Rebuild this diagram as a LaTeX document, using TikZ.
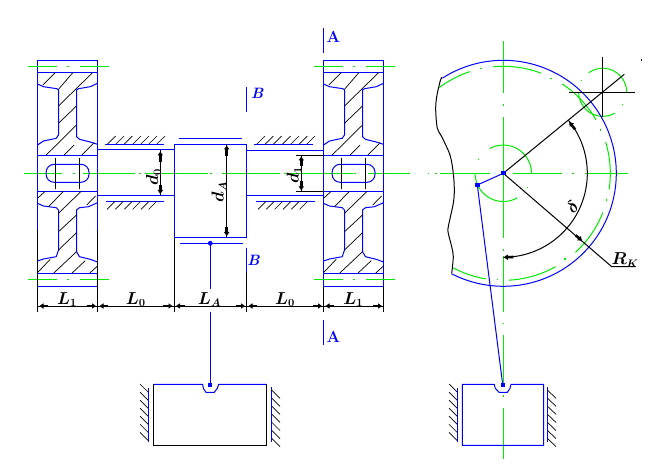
\documentclass[tikz,border=0pt]{standalone}
\usepackage{amsmath}
\usetikzlibrary{arrows.meta}
\definecolor{cadblue}{RGB}{0,0,255}
\definecolor{cadgreen}{RGB}{0,235,0}
\tikzset{
  bl/.style={draw=cadblue,line width=1pt},
  gr/.style={draw=cadgreen,line width=1pt},
  bk/.style={draw=black,line width=1pt},
  hatchline/.style={draw=black,line width=0.7pt},
  tipped/.style={draw=black,line width=2.6pt,-{Triangle[length=4pt,width=5.2pt]}},
  dimtext/.style={font=\fontsize{16}{16}\selectfont\bfseries\itshape,inner sep=0pt},
  seclabel/.style={font=\fontsize{16}{16}\selectfont\bfseries,text=cadblue,inner sep=0pt},
  seclabelit/.style={font=\fontsize{15}{15}\selectfont\bfseries\itshape,text=cadblue,inner sep=0pt},
}
\newcommand{\ArcP}[6]{\draw[#1] plot[domain=#5:#6,samples=70,smooth] ({#2+#4*cos(\x)},{#3-#4*sin(\x)});}
\newcommand{\GrDot}[2]{\fill[cadgreen] (#1-0.7,#2-0.7) rectangle (#1+0.7,#2+0.7);}
\newcommand{\Tip}[2]{\draw[tipped] (#1) -- (#2);}
\newcommand{\BlDot}[2]{\fill[cadblue] (#1-2.2,#2-2.2) rectangle (#1+2.2,#2+2.2);}
\newcommand{\WheelAt}[1]{%
\begin{scope}[shift={(#1,0)}]
  \draw[bl] (0,60.3) rectangle (60,286.3);
  \foreach \yy in {72.3,155.3,191.3,273.3} \draw[bl] (0,\yy) -- (60,\yy);
  \draw[bl] (0,84) -- (6,86.7) -- (19.3,88.7) -- (21,90) -- (21,135) -- (18.7,138.3) -- (6,141) -- (0,145);
  \draw[bl] (60,83.3) -- (52.7,86.7) -- (41,88.7) -- (39,90) -- (39,136.7) -- (42,139.3) -- (52.7,142) -- (60,144.3);
  \draw[bl] (0,203.3) -- (6,206) -- (18.7,207.7) -- (21,210) -- (21,250) -- (18.7,256.7) -- (6,259) -- (0,261);
  \draw[bl] (60,202.7) -- (51,206.7) -- (42,207.7) -- (39,210) -- (39,251.7) -- (42,256.7) -- (52.7,259.3) -- (60,262);
  \draw[bl,rounded corners=8pt] (8.6,164.3) rectangle (51.5,182.3);
  \draw[bk] (18,158) -- (18,189);
  \draw[bk] (42,158) -- (42,189);
  \foreach \a/\b/\c/\d in {5.3/85/17.7/72.7,21/89.3/35.3/72.7,21/106/55/72.7,21/123.3/39/106,8.7/155/39/125,26.7/155/36.7/145,44.3/155/56.7/142.7,
    0/198.3/7.7/191.3,11/206.7/26/191.3,21/213.3/43.7/191.3,49.3/205/58/196,21/231.7/39/215,21/250/39/232.7,0/272.7/12.7/259.3,16/273.3/39/251.7,34.3/273.3/47.7/260.7,52/273.3/60/266}
    \draw[hatchline] (\a,\b) -- (\c,\d);
  \foreach \yy in {66.3,279.3} {
    \draw[gr] (-9.5,\yy) -- (19.5,\yy);
    \GrDot{30.5}{\yy}
    \draw[gr] (42.5,\yy) -- (71.5,\yy);
  }
\end{scope}}
\newcommand{\GuideHatch}[3]{% x start, y start, x end
  \foreach \i in {0,...,6} \draw[hatchline] (#1,{#2+8.05*\i}) -- (#3,{#2+8.3+8.05*\i});}
\begin{document}
\begin{tikzpicture}[x=1pt,y=-1pt]
\useasboundingbox (0,0) rectangle (658,470);
\fill[white] (0,0) rectangle (658,470);

% centre line left view
\draw[gr] (24,173.3) -- (62,173.3);
\GrDot{74}{173.3}
\draw[gr] (83,173.3) -- (135,173.3);
\GrDot{140}{173.3}
\draw[gr] (145,173.3) -- (207.7,173.3);
\GrDot{211}{173.3}
\draw[gr] (222,173.3) -- (280,173.3);
\GrDot{285}{173.3}
\draw[gr] (290,173.3) -- (353,173.3);
\GrDot{355}{173.3}
\draw[gr] (368,173.3) -- (410,173.3);

\WheelAt{37.5}
\WheelAt{323.5}

% extension lines
\draw[bk] (37.5,230) -- (37.5,311.7);
\draw[bk] (97.5,230) -- (97.5,311.7);
\draw[bk] (323.5,286.3) -- (323.5,311.7);
\draw[bk] (383.5,286.3) -- (383.5,311.7);
\draw[bk] (174.3,237.3) -- (174.3,311.7);
\draw[bk] (246.3,272.3) -- (246.3,311.7);

% shaft
\draw[bl] (97.5,150) -- (174.3,150);
\draw[bl] (97.5,195.3) -- (174.3,195.3);
\draw[bl] (246.3,150.3) -- (323.5,150.3);
\draw[bl] (246.3,195.3) -- (323.5,195.3);

% big end
\draw[bl] (174.3,237.3) -- (174.3,144.3) -- (246.3,144.3) -- (246.3,237.3) -- cycle;
\draw[bl] (179,138.3) -- (241.7,138.3);
\draw[bl] (180,243.3) -- (243.3,243.3);
\draw[bl] (210.3,243.3) -- (210.3,288.7);
\draw[bl] (210.3,311.7) -- (210.3,384);
\fill[cadblue] (210.3,243.3) circle (2.4);

% bearing hatches
\draw[bl] (105,144.3) -- (164,144.3);
\foreach \a in {107.3,115.7,124,132.7,140.7,148.7,156.7} \draw[hatchline] (\a,144.3) -- (\a+8.3,136);
\draw[bl] (106,201.3) -- (163.7,201.3);
\foreach \a in {115,123.3,132.3,140.7,149,156.7} \draw[hatchline] (\a,201.3) -- (\a-8,209.3);
\draw[bl] (254,144.3) -- (312.7,144.3);
\foreach \a in {256.7,265,273.3,282.3,290.7,299,306.7} \draw[hatchline] (\a,144.3) -- (\a+8.3,136);
\draw[bl] (256,201.3) -- (315,201.3);
\foreach \a in {266,274.3,282.7,291,299.3,307.7} \draw[hatchline] (\a,201.3) -- (\a-8,209.3);

% horizontal dimension line
\draw[bk] (37.5,306) -- (383.5,306);
\Tip{48,306}{39.5,306}
\Tip{86.7,306}{96,306}
\Tip{108,306}{99.5,306}
\Tip{163,306}{172.5,306}
\Tip{185,306}{176,306}
\Tip{236,306}{245,306}
\Tip{257,306}{248.5,306}
\Tip{313,306}{322,306}
\Tip{334,306}{325.5,306}
\Tip{373,306}{382,306}
\node[dimtext] (l1a) at (67,299.5) {$\boldsymbol{L_{1}}$};
\node[dimtext] (l0a) at (135.7,299.5) {$\boldsymbol{L_{0}}$};
\node[dimtext] (lA) at (209.5,299.5) {$\boldsymbol{L_{A}}$};
\node[dimtext] (l0b) at (285,299.5) {$\boldsymbol{L_{0}}$};
\node[dimtext] (l1b) at (353.3,299.5) {$\boldsymbol{L_{1}}$};

% vertical dimensions
\draw[bk] (160.3,150) -- (160.3,195.3);
\Tip{160.3,161.7}{160.3,151.5}
\Tip{160.3,184.7}{160.3,194}
\node[dimtext,rotate=90] (d0) at (153.5,177) {$\boldsymbol{d_{0}}$};
\draw[bk] (226.7,144.3) -- (226.7,237.3);
\Tip{226.7,156}{226.7,145.5}
\Tip{226.7,227.3}{226.7,236}
\node[dimtext,rotate=90] (dA) at (219,192) {$\boldsymbol{d_{A}}$};
\draw[bk] (296,155.3) -- (323.5,155.3);
\draw[bk] (296,191.3) -- (323.5,191.3);
\draw[bk] (301.3,155.3) -- (301.3,191.3);
\Tip{301.3,166}{301.3,156.5}
\Tip{301.3,181.3}{301.3,190.3}
\node[dimtext,rotate=90] (d1) at (294,175) {$\boldsymbol{d_{1}}$};

% section marks
\draw[bl] (323.3,28.3) -- (323.3,52.7);
\node[seclabel] (a1) at (333.5,36.7) {A};
\draw[bl] (323.3,320) -- (323.3,344.7);
\node[seclabel] (a2) at (333.5,336.7) {A};
\draw[bl] (246.3,87.3) -- (246.3,111.7);
\node[seclabelit] (b1) at (257.3,93.3) {B};
\draw[bl] (246.3,247.7) -- (246.3,272.3);
\node[seclabelit] (b2) at (253.5,260.7) {B};

% left piston
\draw[bk] (153.3,384.3) -- (153.3,445.3) -- (266.7,445.3) -- (266.7,384.3);
\draw[bl] (153.3,384.3) -- (202.7,384.3) -- (203.3,388.3) -- (206,392.3) -- (214.3,392.3) -- (217.3,388.3) -- (218.7,384.3) -- (266.7,384.3);
\BlDot{210}{384.7}
\draw[bl] (148.3,388.3) -- (148.3,441.7);
\GuideHatch{140}{384}{148.3}
\draw[bl] (271.7,387.3) -- (271.7,441.7);
\GuideHatch{271.7}{390}{280}

% right view centre lines
\draw[gr] (503.3,41) -- (503.3,93.3);
\GrDot{503.3}{105}
\draw[gr] (503.3,117.3) -- (503.3,238.3);
\GrDot{503.3}{250}
\draw[gr] (503.3,255.7) -- (503.3,311.7);
\GrDot{503.3}{323.3}
\draw[gr] (503.3,335) -- (503.3,385);
\GrDot{503.3}{396}
\draw[gr] (503.3,408.3) -- (503.3,459.3);
\GrDot{428.3}{173.3}
\GrDot{436}{173.3}
\draw[gr] (440,173.3) -- (490,173.3);
\draw[gr] (513,173.3) -- (561.7,173.3);
\GrDot{573}{173.3}
\draw[gr] (585,173.3) -- (628,173.3);

% inner green arcs
\ArcP{gr}{503.3}{173.3}{107}{108.1}{126.9}
\ArcP{gr}{503.3}{173.3}{107}{69.3}{95.4}
\ArcP{gr}{503.3}{173.3}{107}{30}{56.5}
\ArcP{gr}{503.3}{173.3}{107}{-8.7}{17}
\ArcP{gr}{503.3}{173.3}{107}{-47.6}{-21.5}
\ArcP{gr}{503.3}{173.3}{107}{-87}{-60.7}
\ArcP{gr}{503.3}{173.3}{107}{-118}{-99.4}
\GrDot{481}{68.3}
\GrDot{551}{78.3}
\GrDot{600.7}{130}
\GrDot{606.7}{200}
\GrDot{565}{259}
\GrDot{497.3}{279.3}

% hub circle
\ArcP{gr}{503.3}{173.3}{28.2}{0}{119}
\ArcP{gr}{503.3}{173.3}{28.2}{180}{300}
\GrDot{478.3}{159.3}
\GrDot{527.3}{187.3}

% roller circle
\ArcP{gr}{602.7}{92.3}{24}{0}{126}
\ArcP{gr}{602.7}{92.3}{24}{180}{300}
\GrDot{581.7}{80.7}
\GrDot{622.3}{104.3}

% outer blue arc
\ArcP{bl}{503.3}{173.3}{113}{-117.3}{122.7}

% wavy boundary
\draw[bk] plot[smooth,tension=0.5] coordinates {(441.7,77.3) (440,81.7) (436.7,96.7) (435.7,110) (437.3,128.3) (441.7,136.7) (450,155) (453.3,173.3) (454.3,190) (453.3,203.3) (448.3,226.7) (448.3,233.3) (451.7,246.7) (453.3,256.7) (451.7,273.3)};

% cross at roller
\draw[bk] (602.7,57.3) -- (602.7,117.3);
\draw[bk] (569.3,92.3) -- (635,92.3);
\draw[bk] (503.3,173.3) -- (624.3,74.3);
\fill[black] (641,59.4) rectangle (642.3,60.7);

% Rk leader
\coordinate (rk) at (611.7,266.7);
\draw[bk] (503.3,173.3) -- (rk) -- (635.7,266.7);
\Tip{575.7,235.3}{582,240.8}
\node[dimtext] (rklabel) at (625,260) {$\boldsymbol{R_{K}}$};

% delta arc
\ArcP{bk}{503.3}{173.3}{84}{-90}{39}
\Tip{575,129.3}{569.3,122}
\Tip{513.3,257}{503.8,257.3}
\node[dimtext,rotate=45] (delta) at (572.3,206.7) {$\boldsymbol{\delta}$};

% rod right
\draw[bl] (503.3,173.3) -- (477.3,185) -- (502.7,384.7);
\BlDot{503.3}{173.3}
\BlDot{477.3}{185}

% right piston
\draw[bl] (462.3,384.3) -- (462.3,445.3) -- (543.7,445.3) -- (543.7,384.3) -- (511,384.3) -- (510,388.3) -- (507.3,392.3) -- (499,392.3) -- (495.3,388.3) -- (494.3,384.3) -- cycle;
\BlDot{502.7}{384.7}
\draw[bl] (457.3,388.3) -- (457.3,441.7);
\GuideHatch{449}{384}{457.3}
\draw[bl] (547.3,387.3) -- (547.3,441.7);
\GuideHatch{547.3}{390}{556}
\end{tikzpicture}
\end{document}
